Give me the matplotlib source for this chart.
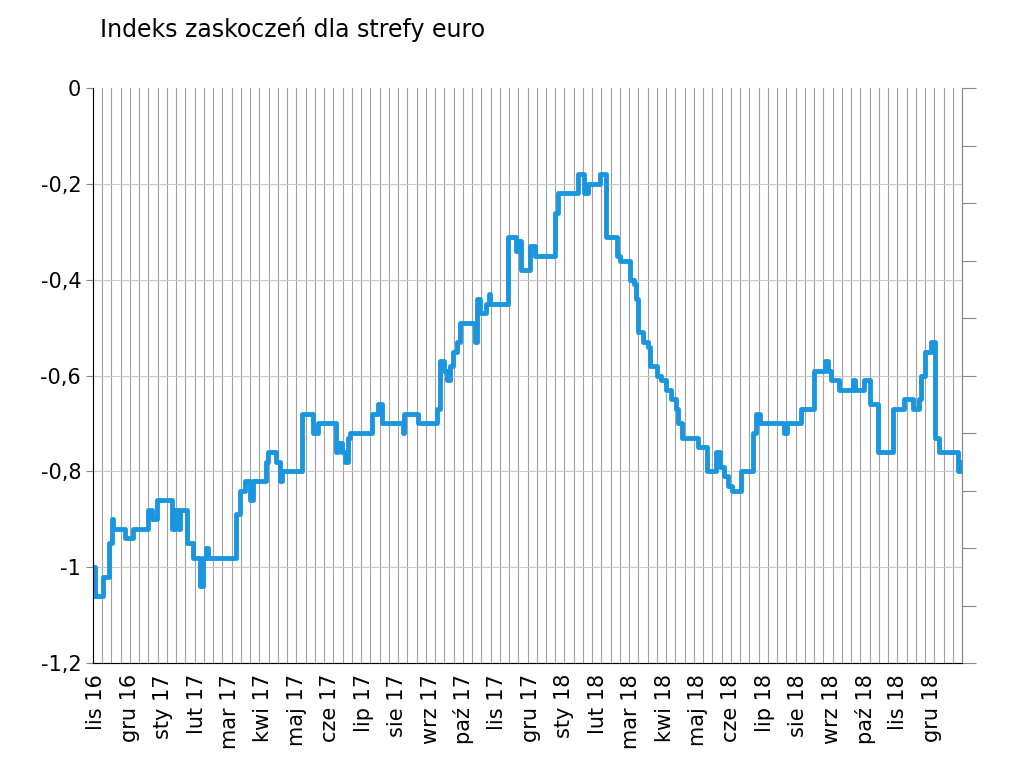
import matplotlib
matplotlib.use("Agg")
import matplotlib.pyplot as plt
import numpy as np

months = ["lis 16","gru 16","sty 17","lut 17","mar 17","kwi 17","maj 17","cze 17","lip 17","sie 17",
          "wrz 17","paź 17","lis 17","gru 17","sty 18","lut 18","mar 18","kwi 18","maj 18","cze 18",
          "lip 18","sie 18","wrz 18","paź 18","lis 18","gru 18"]

# (position in months since lis 16, index value)
t = [0,0.06,0.30,0.48,0.57,0.60,0.96,1.20,1.65,1.77,1.92,2.37,2.46,2.54,2.60,2.75,2.81,2.99,3.20,3.29,3.38,3.44,
     4.28,4.40,4.55,4.70,4.79,5.18,5.24,5.30,5.48,5.60,5.66,6.26,6.59,6.74,7.28,7.34,7.46,7.54,7.63,7.69,7.78,
     8.35,8.53,8.65,9.28,9.31,9.73,10.30,10.39,10.51,10.60,10.69,10.78,10.90,10.99,11.44,11.50,11.59,11.77,11.86,11.89,
     12.43,12.57,12.66,12.72,12.81,13.08,13.23,13.83,13.92,14.52,14.67,14.70,14.82,14.94,15.18,15.36,15.69,15.78,
     16.08,16.20,16.26,16.32,16.47,16.62,16.68,16.77,16.86,16.98,17.13,17.28,17.43,17.51,17.63,18.11,18.38,18.53,
     18.65,18.77,18.89,19.01,19.13,19.40,19.76,19.85,19.97,20.66,20.75,21.17,21.56,21.77,21.89,21.98,22.07,22.31,
     22.75,22.81,23.02,23.08,23.20,23.26,23.50,23.95,24.25,24.52,24.70,24.76,24.88,25.06,25.18,25.30,25.87,25.96]
v = [-1.00,-1.06,-1.02,-0.95,-0.90,-0.92,-0.94,-0.92,-0.88,-0.90,-0.86,-0.92,-0.88,-0.92,-0.88,-0.88,-0.95,-0.98,-1.04,-0.98,-0.96,-0.98,
     -0.89,-0.84,-0.82,-0.86,-0.82,-0.78,-0.76,-0.76,-0.78,-0.82,-0.80,-0.68,-0.72,-0.70,-0.76,-0.74,-0.76,-0.78,-0.73,-0.72,-0.72,
     -0.68,-0.66,-0.70,-0.72,-0.68,-0.70,-0.67,-0.57,-0.59,-0.61,-0.58,-0.55,-0.53,-0.49,-0.53,-0.44,-0.47,-0.45,-0.43,-0.45,
     -0.31,-0.31,-0.34,-0.32,-0.38,-0.33,-0.35,-0.26,-0.22,-0.18,-0.18,-0.22,-0.20,-0.20,-0.18,-0.31,-0.35,-0.36,
     -0.40,-0.41,-0.44,-0.51,-0.53,-0.54,-0.58,-0.58,-0.60,-0.61,-0.63,-0.65,-0.67,-0.70,-0.73,-0.75,-0.80,-0.80,
     -0.76,-0.79,-0.81,-0.83,-0.84,-0.80,-0.72,-0.68,-0.70,-0.72,-0.70,-0.67,-0.59,-0.59,-0.57,-0.59,-0.61,-0.63,
     -0.61,-0.63,-0.63,-0.61,-0.61,-0.66,-0.76,-0.67,-0.65,-0.67,-0.65,-0.60,-0.55,-0.53,-0.73,-0.76,-0.80,-0.78]

fig = plt.figure(figsize=(10.23, 7.63), dpi=100)
ax = fig.add_axes([93/1023, 1-663/763, 869/1023, 575/763])
ax.plot(t, v, drawstyle="steps-post", color="#1a96e0", lw=3.5, solid_joinstyle="round", zorder=3)
ax.set_xlim(0, 26)
ax.set_ylim(-1.2, 0)
for x in np.linspace(0, 26, 95)[1:-1]:
    ax.axvline(x, color="#a0a0a0", lw=0.8, zorder=1)
for y in np.arange(-1.0, 0, 0.2):
    ax.axhline(y, color="#c8c8c8", lw=0.8, zorder=1)
ax.set_yticks(np.arange(-1.2, 0.01, 0.2))
ax.set_yticklabels(["-1,2","-1","-0,8","-0,6","-0,4","-0,2","0"], fontsize=15)
ax.set_xticks(np.arange(26) + 0.1)
ax.set_xticklabels(months, rotation=90, fontsize=15)
ax.tick_params(axis="x", length=0, pad=8)
ax.tick_params(axis="y", length=5, color="#888888")
for s in ["top"]:
    ax.spines[s].set_visible(False)
for s in ["left", "bottom", "right"]:
    ax.spines[s].set_color("#888888")
ax2 = ax.twinx()
ax2.set_ylim(0, 10)
ax2.set_yticks(np.arange(0, 11))
ax2.set_yticklabels([])
ax2.tick_params(axis="y", length=10, color="#888888")
ax2.spines["top"].set_visible(False)
ax2.spines["right"].set_color("#888888")
fig.text(100/1023, 1-30/763, "Indeks zaskoczeń dla strefy euro", fontsize=17, va="center")
fig.savefig("out.png", dpi=100)
